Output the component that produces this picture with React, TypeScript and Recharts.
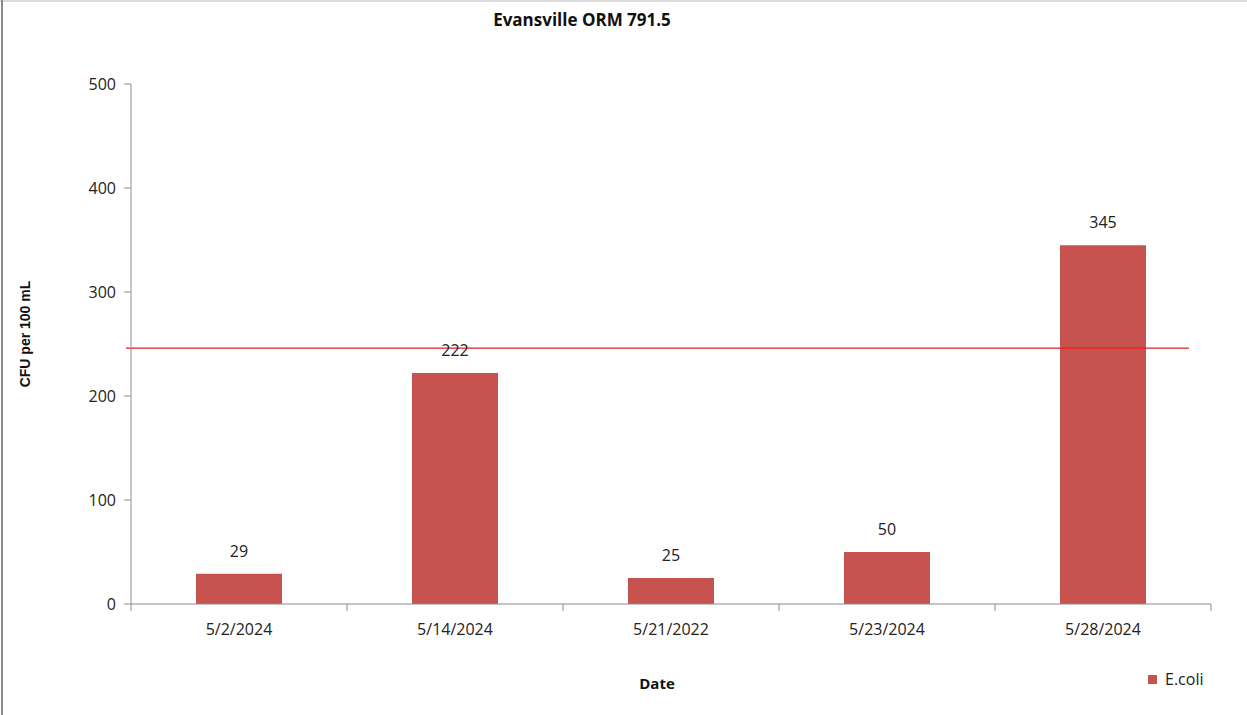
import { BarChart, Bar, XAxis, YAxis, ReferenceLine, LabelList } from 'recharts';

const dates = ['5/2/2024', '5/14/2024', '5/21/2022', '5/23/2024', '5/28/2024'];
const ecoli = [29, 222, 25, 50, 345];
const yTicks = [0, 100, 200, 300, 400, 500];
const limit = 246;

const data = dates.map((d, i) => ({ date: d, ecoli: ecoli[i] }));

const font = '"Open Sans", sans-serif';
const axisColor = '#8c8c8c';
const barColor = '#c65350';

function DateTick(props: any) {
  const { x, y, payload, index } = props;
  const half = payload?.offset ?? 108;
  return (
    <g>
      <line x1={x - half} y1={y} x2={x - half} y2={y + 7} stroke={axisColor} />
      {index === dates.length - 1 && (
        <line x1={x + half} y1={y} x2={x + half} y2={y + 7} stroke={axisColor} />
      )}
      <text x={x} y={y + 31} textAnchor="middle" fill="#222" fontSize={16} fontFamily={font}>
        {payload.value}
      </text>
    </g>
  );
}

function LimitLine(props: any) {
  const { x1, y1, x2, y2 } = props;
  return <line x1={x1 - 5} y1={y1} x2={x2 - 22} y2={y2} stroke="#e41e26" strokeWidth={1.2} />;
}

export default function App() {
  return (
    <div style={{ position: 'absolute', left: 0, top: 0, width: 1247, height: 715, background: '#fff' }}>
      <BarChart
        width={1247}
        height={715}
        data={data}
        margin={{ top: 84, right: 36, bottom: 81, left: 0 }}
      >
        <XAxis
          dataKey="date"
          height={30}
          tickLine={false}
          tickSize={0}
          tickMargin={0}
          stroke={axisColor}
          tick={<DateTick />}
          interval={0}
        />
        <YAxis
          width={131}
          domain={[0, 500]}
          ticks={yTicks}
          tickSize={7}
          tickMargin={8}
          stroke={axisColor}
          tick={{ fill: '#222', fontSize: 16, fontFamily: font }}
        />
        <Bar dataKey="ecoli" name="E.coli" fill={barColor} barSize={86} isAnimationActive={false}>
          <LabelList dataKey="ecoli" position="top" offset={17} fill="#222" fontSize={16} fontFamily={font} />
        </Bar>
        <ReferenceLine y={limit} ifOverflow="visible" shape={<LimitLine />} />
      </BarChart>
      <div style={{ position: 'absolute', left: 382, top: 8, width: 400, textAlign: 'center', fontFamily: font, fontWeight: 700, fontSize: 17, color: '#111' }}>
        Evansville ORM 791.5
      </div>
      <div style={{ position: 'absolute', left: 557, top: 673, width: 200, textAlign: 'center', fontFamily: font, fontWeight: 700, fontSize: 15, color: '#111' }}>
        Date
      </div>
      <div
        style={{
          position: 'absolute',
          left: 24.5 - 80,
          top: 334 - 10,
          width: 160,
          height: 20,
          lineHeight: '20px',
          textAlign: 'center',
          transform: 'rotate(-90deg)',
          fontFamily: '"Liberation Sans", Arial, sans-serif',
          fontWeight: 700,
          fontSize: 14,
          color: '#111',
        }}
      >
        CFU per 100 mL
      </div>
      <div style={{ position: 'absolute', left: 1148, top: 668, display: 'flex', alignItems: 'center', fontFamily: font, fontSize: 16, color: '#222' }}>
        <span style={{ display: 'inline-block', width: 9, height: 9, background: barColor, marginRight: 8 }} />
        E.coli
      </div>
      <div style={{ position: 'absolute', left: 0, top: 0, width: 1247, height: 2, background: '#dcdcdc' }} />
      <div style={{ position: 'absolute', left: 1, top: 0, width: 2, height: 715, background: '#8c8c8c' }} />
    </div>
  );
}
